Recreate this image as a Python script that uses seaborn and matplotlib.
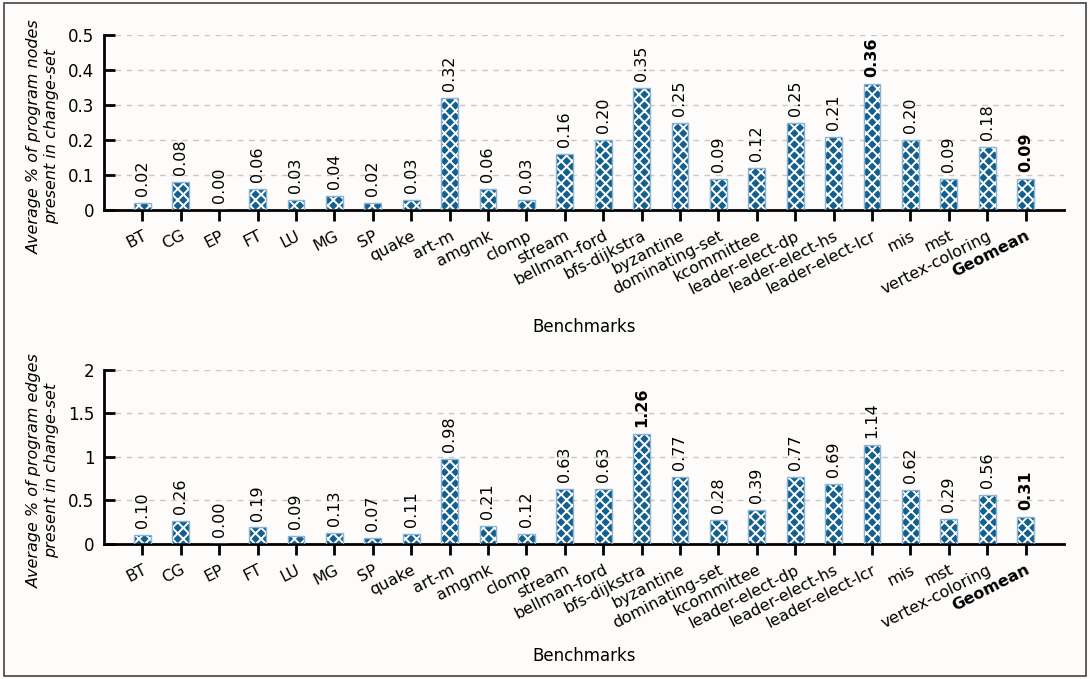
import matplotlib
matplotlib.use("Agg")
import matplotlib.pyplot as plt
import seaborn as sns
import pandas as pd
from matplotlib.patches import Rectangle

benchmarks = ["BT", "CG", "EP", "FT", "LU", "MG", "SP", "quake", "art-m", "amgmk",
              "clomp", "stream", "bellman-ford", "bfs-dijkstra", "byzantine",
              "dominating-set", "kcommittee", "leader-elect-dp", "leader-elect-hs",
              "leader-elect-lcr", "mis", "mst", "vertex-coloring", "Geomean"]
nodes_pct = [0.02, 0.08, 0.00, 0.06, 0.03, 0.04, 0.02, 0.03, 0.32, 0.06, 0.03, 0.16,
             0.20, 0.35, 0.25, 0.09, 0.12, 0.25, 0.21, 0.36, 0.20, 0.09, 0.18, 0.09]
edges_pct = [0.10, 0.26, 0.00, 0.19, 0.09, 0.13, 0.07, 0.11, 0.98, 0.21, 0.12, 0.63,
             0.63, 1.26, 0.77, 0.28, 0.39, 0.77, 0.69, 1.14, 0.62, 0.29, 0.56, 0.31]
nodes_yticks = [0, 0.1, 0.2, 0.3, 0.4, 0.5]
nodes_yticklabels = ["0", "0.1", "0.2", "0.3", "0.4", "0.5"]
edges_yticks = [0, 0.5, 1.0, 1.5, 2.0]
edges_yticklabels = ["0", "0.5", "1", "1.5", "2"]

sns.set_theme(style="white")
plt.rcParams["font.family"] = ["DejaVu Sans"]
plt.rcParams["hatch.linewidth"] = 1.4
plt.rcParams["text.color"] = "black"
plt.rcParams["axes.labelcolor"] = "black"
plt.rcParams["xtick.color"] = "black"
plt.rcParams["ytick.color"] = "black"

BG = "#fdfcfa"
BAR = "#135f8e"
EDGE = "#8ab4d6"

fig = plt.figure(figsize=(10.9, 6.79), dpi=100, facecolor=BG)
fig.patches.append(Rectangle((0.004, 0.004), 0.992, 0.992, transform=fig.transFigure,
                             fill=False, edgecolor="#444444", linewidth=1.2))

ax1 = fig.add_axes([0.0954, 0.6907, 0.8807, 0.2577])
ax2 = fig.add_axes([0.0954, 0.1988, 0.8807, 0.2567])


def draw(ax, values, yticks, yticklabels, ylim, ylabel, xlabelpad):
    ax.set_facecolor(BG)
    df = pd.DataFrame({"bench": benchmarks, "val": values})
    sns.barplot(data=df, x="bench", y="val", ax=ax, color=BAR, width=0.44,
                edgecolor="white", linewidth=0, saturation=1)
    patches = list(ax.patches)
    for p in patches:
        p.set_hatch("xxx")
        p.set_facecolor(BAR)
        ax.add_patch(Rectangle(p.get_xy(), p.get_width(), p.get_height(), fill=False,
                               edgecolor=EDGE, linewidth=1.0, zorder=3))
    vmax = max(values[:-1])
    for i, (p, v) in enumerate(zip(patches, values)):
        bold = (v == vmax) or (benchmarks[i] == "Geomean")
        ax.annotate(f"{v:.2f}", (p.get_x() + p.get_width() / 2, v),
                    xytext=(0, 5), textcoords="offset points", rotation=90,
                    ha="center", va="bottom", fontsize=11.5,
                    fontweight="bold" if bold else "normal", color="black")
    ax.set_xlim(-1.0, 24.0)
    ax.set_ylim(*ylim)
    ax.set_yticks(yticks)
    ax.set_yticklabels(yticklabels, fontsize=12)
    for y in yticks[1:]:
        ax.axhline(y, color="#c8c8c8", linestyle=(0, (4, 4)), linewidth=1.0, zorder=0)
    ax.set_xticks(range(len(benchmarks)))
    ax.set_xticklabels(benchmarks, rotation=27, ha="right", rotation_mode="anchor",
                       fontsize=11.5)
    for lbl in ax.get_xticklabels():
        if lbl.get_text() == "Geomean":
            lbl.set_fontweight("bold")
    ax.tick_params(axis="x", direction="out", length=8, width=2, color="black",
                   bottom=True, pad=5)
    ax.tick_params(axis="y", direction="in", length=8, width=2, color="black",
                   left=True, pad=7)
    for s in ["top", "right"]:
        ax.spines[s].set_visible(False)
    for s in ["left", "bottom"]:
        ax.spines[s].set_linewidth(2)
        ax.spines[s].set_color("black")
    ax.set_ylabel(ylabel, fontsize=11.5, style="italic")
    ax.yaxis.set_label_coords(-0.047, 0.42)
    ax.set_xlabel("Benchmarks", fontsize=12, labelpad=xlabelpad)


draw(ax1, nodes_pct, nodes_yticks, nodes_yticklabels, (0, 0.5),
     "Average % of program nodes\npresent in change-set", 15)
draw(ax2, edges_pct, edges_yticks, edges_yticklabels, (0, 2.0),
     "Average % of program edges\npresent in change-set", 12)

fig.savefig("out.png", dpi=100, facecolor=BG)
